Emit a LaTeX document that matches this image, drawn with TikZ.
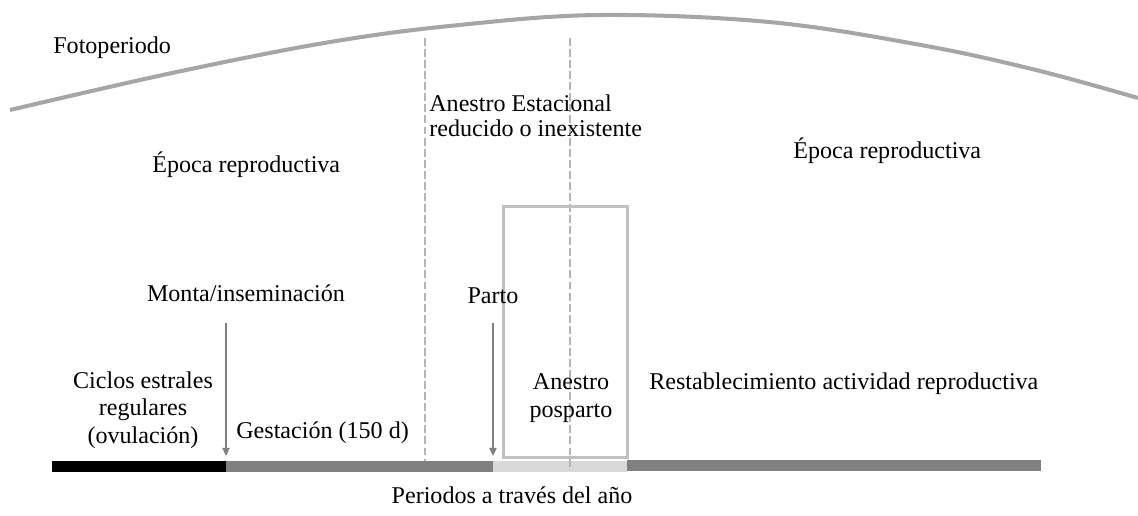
\documentclass[tikz,border=0pt]{standalone}
\usepackage{fontspec}
\setmainfont{Liberation Serif}
\usetikzlibrary{arrows.meta}
\definecolor{curvegray}{HTML}{A6A6A6}
\definecolor{dashgray}{HTML}{B4B4B4}
\definecolor{boxgray}{HTML}{C0C0C0}
\definecolor{bargray}{HTML}{808080}
\definecolor{barlight}{HTML}{D9D9D9}
\tikzset{
	lbl/.style={inner sep=0pt, font=\fontsize{13.7}{15.6}\selectfont},
	sepline/.style={draw=dashgray, line width=0.6pt, dash pattern=on 4.5pt off 1.8pt},
	timearrow/.style={draw=bargray, line width=0.6pt, -{Triangle[length=4.6pt,width=4.2pt]}}
}

\begin{document}
\begin{tikzpicture}[x=0.02cm,y=-0.02cm]
			%%%%% START %%%%%
			\useasboundingbox (0,0) rectangle (1138,515);
			
			\draw[curvegray, line width=2.3pt] plot[smooth, tension=0.6] coordinates {(10,110) (172,73) (330,42) (459,25) (600,15) (769,22) (921,45) (1036,70) (1138,98)};
			\node[lbl, anchor=base west] (foto) at (53,53) {Fotoperiodo};
			
			\fill[black] (52,461) rectangle (226,472);
			\fill[bargray] (226,461) rectangle (493,472);
			\fill[barlight] (493,461) rectangle (627,472);
			\fill[bargray] (627,460) rectangle (1041,471);
			
			\draw[sepline] (425,38) -- (425,461);
			\draw[sepline] (570,38) -- (570,468);
			
			\draw[boxgray, line width=1.7pt] (503.5,206) rectangle (627.5,457);
			
			\node[lbl, anchor=base west] (epocaizq) at (152,172) {Época reproductiva};
			\node[lbl, anchor=base west] (epocader) at (793,158) {Época reproductiva};
			\node[lbl, anchor=base west, align=left, font=\fontsize{13.7}{13.7}\selectfont] (anestroest) at (429,136) {Anestro Estacional\\reducido o inexistente};
			
			\node[lbl, anchor=base] (monta) at (246,301) {Monta/inseminación};
			\node[lbl, anchor=base] (parto) at (493,303) {Parto};
			\coordinate (montaini) at (226,323);
			\coordinate (montafin) at (226,456);
			\coordinate (partoini) at (493,323);
			\coordinate (partofin) at (493,456);
			\draw[timearrow] (montaini) -- (montafin);
			\draw[timearrow] (partoini) -- (partofin);
			
			\node[lbl, anchor=base, align=center] (ciclos) at (143,443) {Ciclos estrales\\regulares\\(ovulación)};
			\node[lbl, anchor=base west] (gestacion) at (236,438) {Gestación (150 d)};
			\node[lbl, anchor=base, align=center, font=\fontsize{13.7}{15.9}\selectfont] (anestropos) at (571,417) {Anestro\\posparto};
			\node[lbl, anchor=base west] (restab) at (649,389) {Restablecimiento actividad reproductiva};
			
			\node[lbl, anchor=base] (periodos) at (512,503) {Periodos a través del año};
			%%%%% END %%%%%
\end{tikzpicture}
\end{document}
